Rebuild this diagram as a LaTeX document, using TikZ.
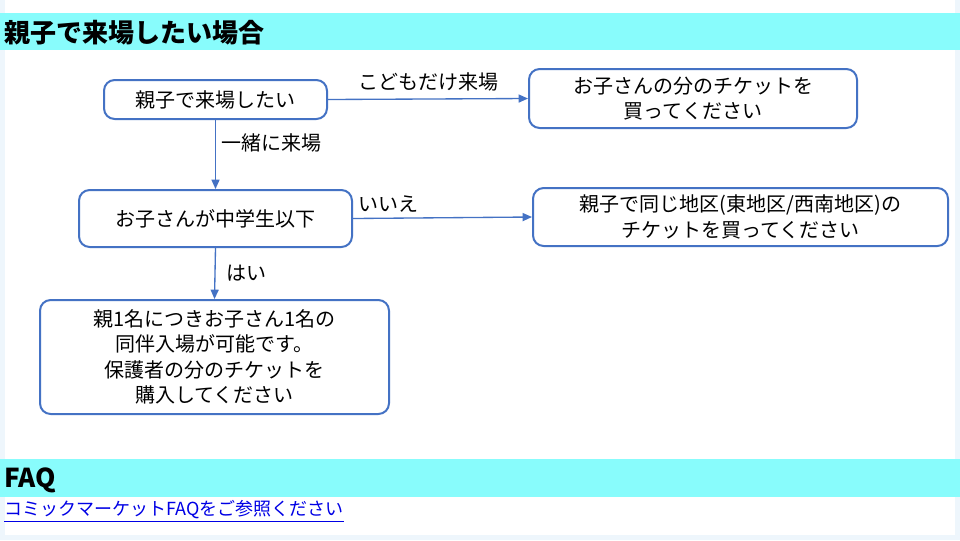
\documentclass[tikz,border=0pt]{standalone}
\usepackage{fontspec}
\setmainfont{Noto Sans CJK JP}
\usetikzlibrary{arrows.meta}
\definecolor{bandc}{HTML}{88FCFC}
\definecolor{edge}{HTML}{4472C4}
\definecolor{pagebg}{HTML}{EEF6FC}
\tikzset{box/.style={draw=edge,line width=1.5pt,rounded corners=8pt,fill=white,align=center,font=\fontsize{15}{19}\selectfont,inner sep=0pt},
conn/.style={draw=edge,line width=1pt,-{Triangle[length=7pt,width=6pt]}},
lab/.style={font=\fontsize{15}{18}\selectfont,inner sep=0pt}}
\begin{document}
\begin{tikzpicture}[x=0.75pt,y=-0.75pt]
\useasboundingbox (0,0) rectangle (960,540);
\fill[pagebg] (0,0) rectangle (960,540);
\fill[white] (5,0) rectangle (955,535);
\fill[bandc] (0,13) rectangle (960,50);
\fill[bandc] (0,459) rectangle (960,497);
\node[anchor=west,inner sep=0pt,font=\bfseries\fontsize{19.5}{22}\selectfont] (t1) at (4,33) {親子で来場したい場合};
\node[anchor=west,inner sep=0pt,font=\bfseries\fontsize{19.5}{22}\selectfont] (t2) at (4,480) {FAQ};
\node[anchor=west,inner sep=0pt,text=blue!90!black,font=\fontsize{13.5}{16}\selectfont] (lk) at (4,511) {\underline{コミックマーケットFAQをご参照ください}};
\node[box,minimum width=223*0.75pt,minimum height=39*0.75pt] (A) at (215.5,99.5) {親子で来場したい};
\node[box,minimum width=328*0.75pt,minimum height=59*0.75pt] (B) at (693,98.5) {お子さんの分のチケットを\\買ってください};
\node[box,minimum width=273*0.75pt,minimum height=57*0.75pt] (C) at (215.5,218.5) {お子さんが中学生以下};
\node[box,minimum width=415*0.75pt,minimum height=58*0.75pt] (D) at (740.5,217) {親子で同じ地区(東地区/西南地区)の\\チケットを買ってください};
\node[box,minimum width=349*0.75pt,minimum height=114*0.75pt] (E) at (214.5,357) {親1名につきお子さん1名の\\同伴入場が可能です。\\保護者の分のチケットを\\購入してください};
\draw[conn] (A.east) -- (B.west) node[lab,pos=0.5,above=5pt] {こどもだけ来場};
\draw[conn] (A.south) -- (C.north) node[lab,pos=0.33,right=4pt] {一緒に来場};
\draw[conn] (C.east) -- (D.west) node[lab,pos=0.2,above=4pt] {いいえ};
\draw[conn] (C.south) -- (E.north) node[lab,pos=0.5,right=8pt] {はい};
\end{tikzpicture}
\end{document}
